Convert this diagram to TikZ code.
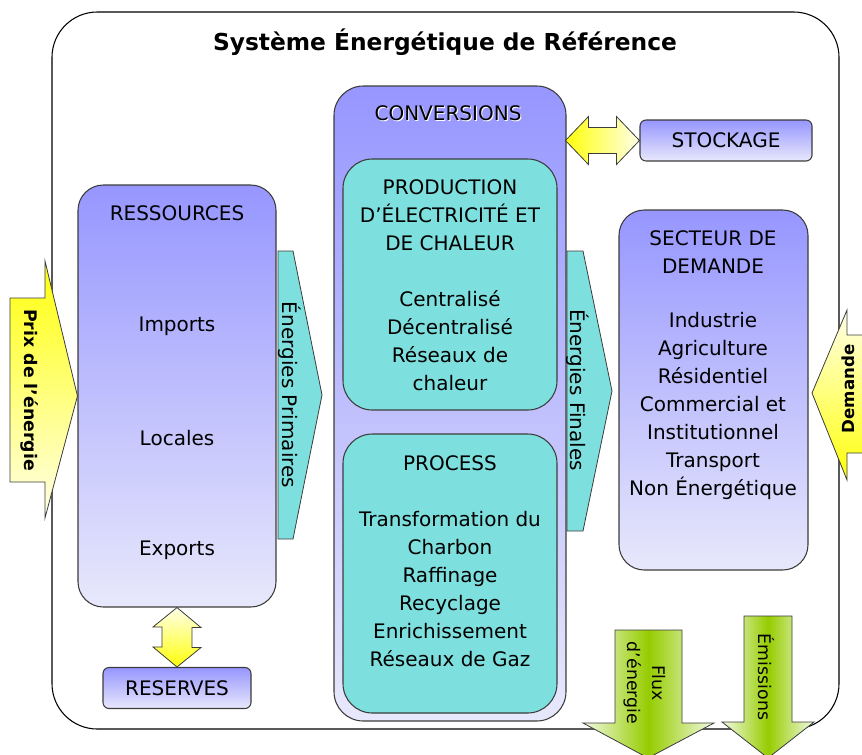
\documentclass[tikz,border=0pt]{standalone}
\usepackage{fontspec}
\setmainfont{DejaVu Sans}
\definecolor{lav}{RGB}{150,150,255}
\definecolor{lavlight}{RGB}{232,232,252}
\definecolor{aqua}{RGB}{126,224,222}
\definecolor{edge}{RGB}{60,60,60}
\definecolor{ylw}{RGB}{255,255,10}
\definecolor{cream}{RGB}{255,255,232}
\definecolor{grn}{RGB}{150,204,0}
\definecolor{grnlight}{RGB}{242,250,228}

\begin{document}
\begin{tikzpicture}[x=0.75pt,y=-0.75pt,
    sz/.style 2 args={minimum width=#1*0.75pt, minimum height=#2*0.75pt},
    block/.style={draw=edge, line width=0.8pt, rounded corners=19pt, top color=lav, bottom color=lavlight, inner sep=0pt},
    tag/.style={draw=edge, line width=0.8pt, rounded corners=4.5pt, top color=lav, bottom color=lavlight, inner sep=0pt},
    inner/.style={draw=edge, line width=0.8pt, rounded corners=22pt, fill=aqua, inner sep=0pt},
    txt/.style={font=\fontsize{15}{21}\selectfont, align=center, inner sep=0pt},
    lbl/.style={font=\fontsize{13}{18.5}\selectfont, align=center, inner sep=0pt},
    bold lbl/.style={font=\bfseries\fontsize{13}{18.5}\selectfont, inner sep=0pt},
    yarrow/.style={draw=edge, line width=0.6pt},
    flow/.style={draw=edge, line width=0.6pt, fill=aqua},
    garrow/.style={draw=edge, line width=0.6pt, left color=grnlight, right color=grnlight, middle color=grn}]

    \clip (0,0) rectangle (862,754);

    % cadre
    \node[draw, line width=0.8pt, rounded corners=34pt, sz={787}{717}, inner sep=0pt] (sys) at (445.5,370.5) {};
    \node[font=\bfseries\fontsize{17.5}{21}\selectfont] (title) at (445,42) {Système Énergétique de Référence};

    % ressources
    \node[block, sz={198}{422}] (ress) at (177,396) {};
    \node[txt] (ressT) at (177,213) {RESSOURCES};
    \node[txt] (imp) at (177,326) {Imports};
    \node[txt] (loc) at (177,438) {Locales};
    \node[txt] (exp) at (177,550) {Exports};
    \node[tag, sz={148}{41}] (res) at (177,688) {};
    \node[txt] (resT) at (177,688) {RESERVES};

    % conversions
    \node[block, rounded corners=22pt, sz={232}{635}] (conv) at (450,403.5) {};
    \node[txt, text=white] at (449,114) {CONVERSIONS};
    \node[txt] (convT) at (448,113) {CONVERSIONS};
    \node[inner, sz={214}{251}] (prod) at (450,284.5) {};
    \node[txt] (prodT) at (450,215) {PRODUCTION\\D’ÉLECTRICITÉ ET\\DE CHALEUR};
    \node[txt] (prodL) at (450,341) {Centralisé\\Décentralisé\\Réseaux de\\chaleur};
    \node[inner, sz={214}{279}] (proc) at (450,573.5) {};
    \node[txt] (procT) at (450,463) {PROCESS};
    \node[txt] (procL) at (450,589) {Transformation du\\Charbon\\Raffinage\\Recyclage\\Enrichissement\\Réseaux de Gaz};

    % stockage et demande
    \node[tag, sz={172}{41}] (stock) at (726,140.5) {};
    \node[txt] (stockT) at (726,140) {STOCKAGE};
    \node[block, sz={189}{360}] (sect) at (713.5,390) {};
    \node[txt] (sectT) at (713,252) {SECTEUR DE\\DEMANDE};
    \node[txt] (sectL) at (713,406) {Industrie\\Agriculture\\Résidentiel\\Commercial et\\Institutionnel\\Transport\\Non Énergétique};

    % fleches doubles
    \path[yarrow, top color=cream, bottom color=ylw] (ress.south) -- ++(24,20) -- ++(-9,0) -- ++(0,20) -- ++(9,0)
        -- (res.north) -- ++(-24,-20) -- ++(9,0) -- ++(0,-20) -- ++(-9,0) -- cycle;
    \path[yarrow, left color=ylw, right color=cream] (stock.west) -- ++(-23,-24) -- ++(0,11) -- ++(-28,0) -- ++(0,-11)
        -- ++(-23,24) -- ++(23,24) -- ++(0,-11) -- ++(28,0) -- ++(0,11) -- cycle;

    % flux
    \path[flow] (278,251) -- (293,251) -- (322,395) -- (293,539) -- (278,539) -- cycle;
    \node[txt, rotate=-90] (prim) at (290,395) {Énergies Primaires};
    \path[flow] (567,251) -- (583,251) -- (612,391) -- (583,531) -- (567,531) -- cycle;
    \node[txt, rotate=-90] (fin) at (578,390) {Énergies Finales};

    % entrees
    \path[yarrow, top color=ylw, bottom color=cream] (10,298) -- (45,298) -- (45,261) -- (ress.west) -- (45,518) -- (45,482) -- (10,482) -- cycle;
    \node[bold lbl, rotate=-90] (prix) at (30,390) {Prix de l’énergie};
    \path[yarrow, top color=cream, bottom color=ylw] (870,335) -- (847,335) -- (847,310) -- (812,393) -- (847,480) -- (847,453) -- (870,453) -- cycle;
    \node[bold lbl, font=\bfseries\fontsize{12.5}{18}\selectfont, rotate=90] (dem) at (848,389) {Demande};

    % sorties
    \path[garrow] (615,630) -- (682,630) -- (682,723) -- (714,723) -- (648,758) -- (583,723) -- (615,723) -- cycle;
    \node[lbl, rotate=-90] (flux) at (645,683) {Flux\\d’énergie};
    \path[garrow] (744,616) -- (792,616) -- (792,722) -- (814,722) -- (768,758) -- (722,722) -- (744,722) -- cycle;
    \node[lbl, rotate=-90] (emis) at (766,677) {Émissions};

\end{tikzpicture}
\end{document}
